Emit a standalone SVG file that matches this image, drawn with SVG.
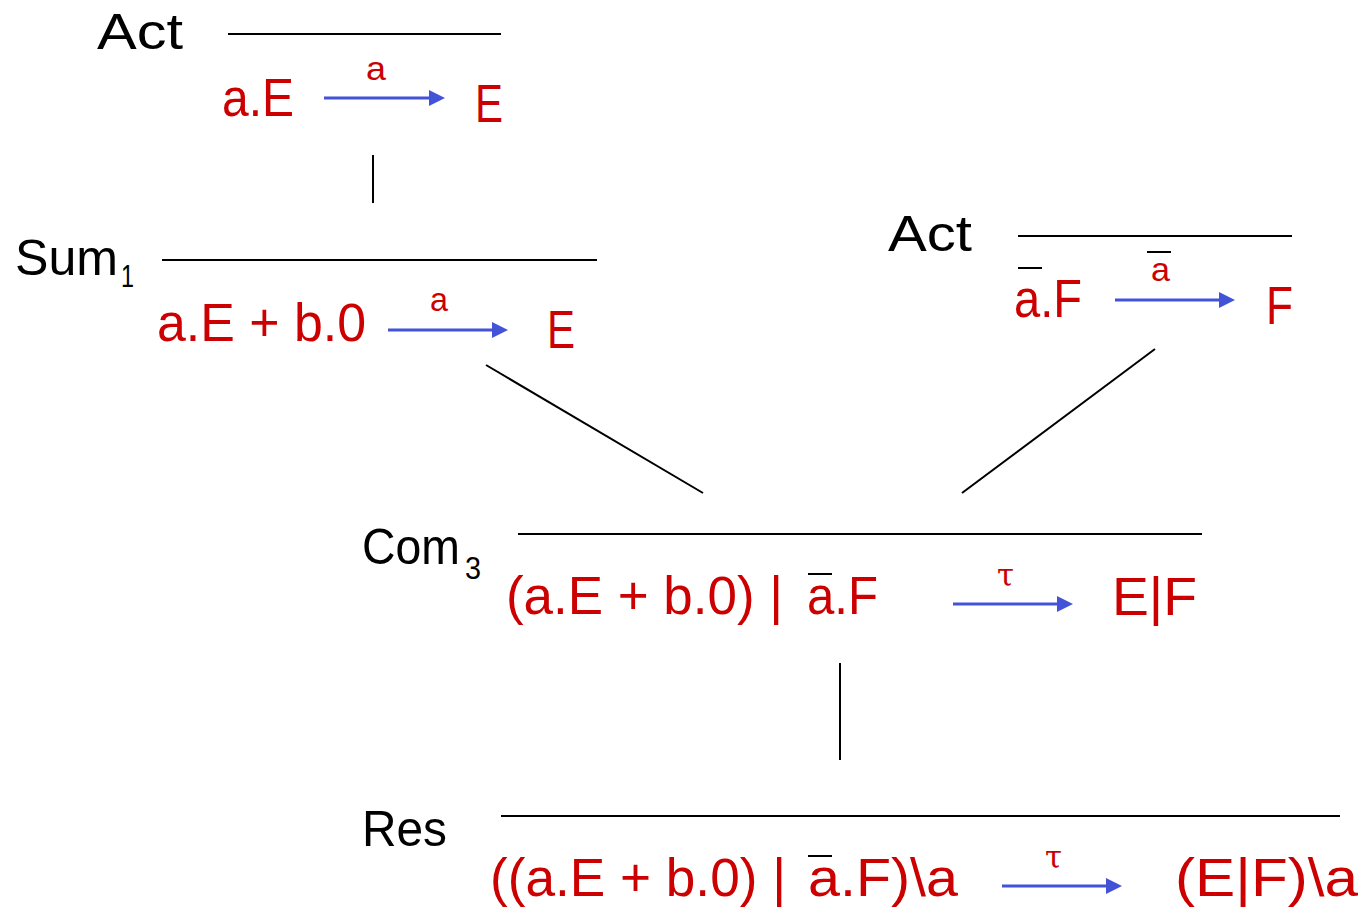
<svg xmlns="http://www.w3.org/2000/svg" width="1365" height="909" viewBox="0 0 1365 909">
<style>
.lbl{font-family:"Liberation Sans",Arial,sans-serif;font-size:50px;fill:#000}
.sub{font-family:"Liberation Sans",Arial,sans-serif;font-size:32px;fill:#000}
.ex{font-family:"Liberation Sans",Arial,sans-serif;font-size:54px;fill:#CC0000}
.act{font-family:"Liberation Sans",Arial,sans-serif;font-size:34px;fill:#CC0000}
.tau{font-family:"DejaVu Serif",serif;font-size:32px;fill:#CC0000}
.rule{stroke:#000;stroke-width:2}
.ov{stroke:#000;stroke-width:2}
.arr{stroke:#4353D8;stroke-width:3;marker-end:url(#ah)}
.conn{stroke:#000;stroke-width:2;fill:none}
</style>
<defs>
<marker id="ah" markerWidth="16" markerHeight="16" refX="0" refY="8" orient="auto" markerUnits="userSpaceOnUse">
<path d="M0,0 L16,8 L0,16 Z" fill="#4353D8"/>
</marker>
</defs>
<rect width="1365" height="909" fill="#fff"/>

<g id="connectors">
<line class="conn" x1="373" y1="155" x2="373" y2="203"/>
<line class="conn" x1="486" y1="365" x2="703" y2="493"/>
<line class="conn" x1="1155" y1="349" x2="962" y2="493"/>
<line class="conn" x1="840" y1="663" x2="840" y2="760"/>
</g>

<g id="act1">
<text class="lbl" x="97" y="49" textLength="86" lengthAdjust="spacingAndGlyphs">Act</text>
<line class="rule" x1="228" y1="34" x2="501" y2="34"/>
<text class="ex" x="222" y="116" textLength="72" lengthAdjust="spacingAndGlyphs">a.E</text>
<text class="act" x="366" y="80" textLength="20" lengthAdjust="spacingAndGlyphs">a</text>
<line class="arr" x1="324" y1="98" x2="429" y2="98"/>
<text class="ex" x="475" y="122" textLength="28" lengthAdjust="spacingAndGlyphs">E</text>
</g>

<g id="sum1">
<text class="lbl" x="15" y="275" textLength="103" lengthAdjust="spacingAndGlyphs">Sum</text>
<text class="sub" x="121" y="287" textLength="13" lengthAdjust="spacingAndGlyphs">1</text>
<line class="rule" x1="162" y1="260" x2="597" y2="260"/>
<text class="ex" x="157" y="341" textLength="209" lengthAdjust="spacingAndGlyphs">a.E + b.0</text>
<text class="act" x="430" y="311" textLength="18" lengthAdjust="spacingAndGlyphs">a</text>
<line class="arr" x1="388" y1="330" x2="492" y2="330"/>
<text class="ex" x="547" y="348" textLength="28" lengthAdjust="spacingAndGlyphs">E</text>
</g>

<g id="act2">
<text class="lbl" x="888" y="251" textLength="84" lengthAdjust="spacingAndGlyphs">Act</text>
<line class="rule" x1="1018" y1="236" x2="1292" y2="236"/>
<text class="ex" x="1014" y="317" textLength="68" lengthAdjust="spacingAndGlyphs">a.F</text>
<line class="ov" x1="1018" y1="268" x2="1042" y2="268"/>
<text class="act" x="1151" y="281" textLength="19" lengthAdjust="spacingAndGlyphs">a</text>
<line class="ov" x1="1147" y1="252" x2="1171" y2="252"/>
<line class="arr" x1="1115" y1="300" x2="1219" y2="300"/>
<text class="ex" x="1266" y="324" textLength="27" lengthAdjust="spacingAndGlyphs">F</text>
</g>

<g id="com3">
<text class="lbl" x="362" y="564" textLength="98" lengthAdjust="spacingAndGlyphs">Com</text>
<text class="sub" x="465" y="579" textLength="16" lengthAdjust="spacingAndGlyphs">3</text>
<line class="rule" x1="518" y1="534" x2="1202" y2="534"/>
<text class="ex" x="506" y="614" textLength="277" lengthAdjust="spacingAndGlyphs">(a.E + b.0) |</text>
<text class="ex" x="807" y="614" textLength="71" lengthAdjust="spacingAndGlyphs">a.F</text>
<line class="ov" x1="808" y1="574" x2="832" y2="574"/>
<text class="tau" x="997" y="586" textLength="17" lengthAdjust="spacingAndGlyphs">τ</text>
<line class="arr" x1="953" y1="604" x2="1057" y2="604"/>
<text class="ex" x="1112" y="615" textLength="85" lengthAdjust="spacingAndGlyphs">E|F</text>
</g>

<g id="res">
<text class="lbl" x="362" y="846" textLength="85" lengthAdjust="spacingAndGlyphs">Res</text>
<line class="rule" x1="501" y1="816" x2="1340" y2="816"/>
<text class="ex" x="490" y="896" textLength="296" lengthAdjust="spacingAndGlyphs">((a.E + b.0) |</text>
<text class="ex" x="808" y="896" textLength="150" lengthAdjust="spacingAndGlyphs">a.F)\a</text>
<line class="ov" x1="808" y1="856" x2="832" y2="856"/>
<text class="tau" x="1045" y="868" textLength="17" lengthAdjust="spacingAndGlyphs">τ</text>
<line class="arr" x1="1002" y1="886" x2="1106" y2="886"/>
<text class="ex" x="1175" y="896" textLength="183" lengthAdjust="spacingAndGlyphs">(E|F)\a</text>
</g>
</svg>
